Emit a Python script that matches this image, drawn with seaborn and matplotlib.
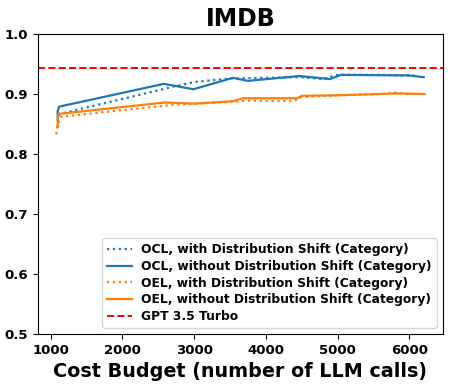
import seaborn as sns
import matplotlib.pyplot as plt
import numpy as np
import pandas as pd

# budgets / accuracies
ocl_shift_x = [1100, 1100, 1130, 1830, 2700, 3000, 3500, 4000, 4500, 4800, 5000, 5500, 6000, 6100]
ocl_shift_y = [0.845, 0.860, 0.867, 0.887, 0.912, 0.920, 0.926, 0.927, 0.928, 0.925, 0.932, 0.932, 0.931, 0.930]

ocl_x = [1100, 1100, 1120, 2580, 2990, 3540, 3750, 4470, 4890, 5050, 6000, 6200]
ocl_y = [0.860, 0.872, 0.879, 0.917, 0.908, 0.927, 0.922, 0.930, 0.925, 0.932, 0.931, 0.928]

oel_shift_x = [1080, 1100, 1140, 1830, 2700, 3500, 3800, 4200, 4400, 4500, 5000, 5600, 5800, 6000]
oel_shift_y = [0.833, 0.850, 0.862, 0.871, 0.882, 0.887, 0.889, 0.888, 0.889, 0.895, 0.898, 0.900, 0.902, 0.900]

oel_x = [1100, 1100, 1120, 2600, 3000, 3540, 3680, 4440, 4500, 5030, 5820, 6210]
oel_y = [0.845, 0.860, 0.867, 0.886, 0.884, 0.888, 0.893, 0.893, 0.897, 0.898, 0.901, 0.900]

gpt35 = 0.943

series = [
    ("OCL, with Distribution Shift (Category)", ocl_shift_x, ocl_shift_y, "tab:blue", ":"),
    ("OCL, without Distribution Shift (Category)", ocl_x, ocl_y, "tab:blue", "-"),
    ("OEL, with Distribution Shift (Category)", oel_shift_x, oel_shift_y, "tab:orange", ":"),
    ("OEL, without Distribution Shift (Category)", oel_x, oel_y, "tab:orange", "-"),
]

plt.rcParams['font.weight'] = 'bold'
fig, ax = plt.subplots(figsize=(4.51, 3.87), dpi=100)
fig.subplots_adjust(left=0.084, right=0.982, top=0.912, bottom=0.137)

for name, xs, ys, c, ls in series:
    df = pd.DataFrame({"budget": xs, "acc": ys})
    sns.lineplot(data=df, x="budget", y="acc", ax=ax, estimator=None, sort=False,
                 color=c, linestyle=ls, linewidth=1.6, label=name)

ax.axhline(gpt35, color="red", linestyle="--", linewidth=1.4, label="GPT 3.5 Turbo")

ax.set_ylim(0.5, 1.0)
ax.set_xticks([1000, 2000, 3000, 4000, 5000, 6000])
ax.set_yticks([0.5, 0.6, 0.7, 0.8, 0.9, 1.0])
ax.tick_params(labelsize=9.5)
for lab in ax.get_xticklabels() + ax.get_yticklabels():
    lab.set_fontweight("bold")
ax.set_title("IMDB", fontsize=17, fontweight="bold")
ax.set_xlabel("Cost Budget (number of LLM calls)", fontsize=13.8, fontweight="bold")
ax.set_ylabel("")
ax.legend(loc="lower right", prop={"weight": "bold", "size": 8.8}, labelspacing=0.3)

plt.savefig("out.png", dpi=100)
